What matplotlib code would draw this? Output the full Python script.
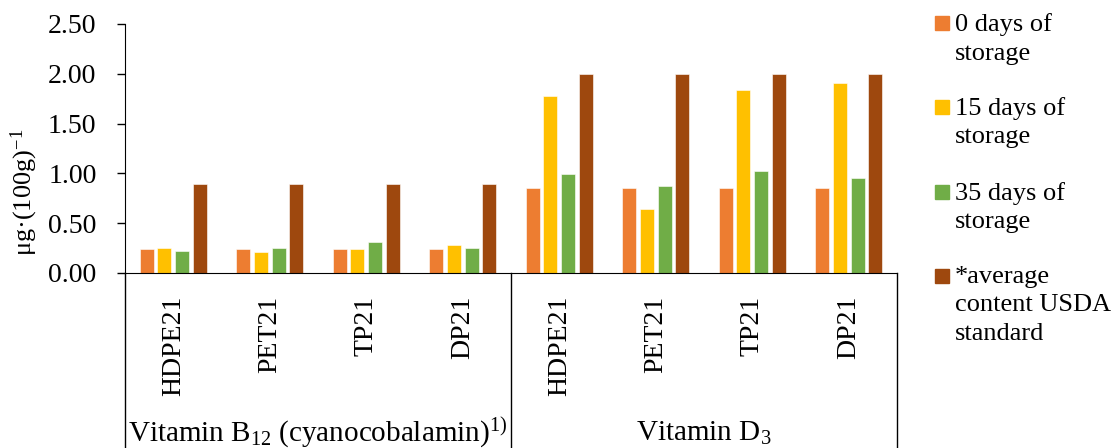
import numpy as np
import matplotlib
matplotlib.use('Agg')
import matplotlib.pyplot as plt
from matplotlib.patches import Rectangle

plt.rcParams['font.family'] = ['Liberation Serif', 'DejaVu Serif']
plt.rcParams['mathtext.fontset'] = 'custom'
plt.rcParams['mathtext.rm'] = 'Liberation Serif'
plt.rcParams['mathtext.it'] = 'Liberation Serif:italic'

# dane
packages = ['HDPE21', 'PET21', 'TP21', 'DP21', 'HDPE21', 'PET21', 'TP21', 'DP21']
groups = [r'Vitamin B$\mathregular{_{12}}$ (cyanocobalamin)$\mathregular{^{1)}}$',
          r'Vitamin D$\mathregular{_{3}}$']
series = ['0 days of\nstorage', '15 days of\nstorage', '35 days of\nstorage',
          '*average\ncontent USDA\nstandard']
day0 = [0.24, 0.24, 0.24, 0.24, 0.85, 0.85, 0.85, 0.85]
day15 = [0.25, 0.21, 0.24, 0.28, 1.78, 0.64, 1.84, 1.91]
day35 = [0.22, 0.25, 0.31, 0.25, 0.99, 0.87, 1.02, 0.95]
usda = [0.89, 0.89, 0.89, 0.89, 2.00, 2.00, 2.00, 2.00]
colors = ['#ED7D31', '#FFC000', '#70AD47', '#9E480E']

fig = plt.figure(figsize=(11.13, 4.48), dpi=100)
ax = fig.add_axes([125/1113, 175/448, 772/1113, 249/448])

x = np.arange(len(packages))
step = 0.183
width = 0.145
for i, vals in enumerate([day0, day15, day35, usda]):
    ax.bar(x + (i - 1.5) * step, vals, width, color=colors[i],
           edgecolor='white', linewidth=0.4)

ax.set_xlim(-0.5, 7.5)
ax.set_ylim(0, 2.5)
ax.set_yticks(np.arange(0, 2.51, 0.5))
ax.set_yticklabels([f'{v:.2f}' for v in np.arange(0, 2.51, 0.5)], fontsize=20)
ax.tick_params(axis='y', direction='out', length=5.5, width=1, pad=15)

ax.set_xticks(x)
ax.set_xticklabels(packages, rotation=90, fontsize=20, va='top')
ax.tick_params(axis='x', length=0, pad=16.5)

ax.spines['top'].set_visible(False)
ax.spines['right'].set_visible(False)
ax.spines['left'].set_color('black')
ax.spines['bottom'].set_color('black')

ax.set_ylabel(r'μg·(100g)$\mathregular{^{-1}}$', fontsize=19)
ax.yaxis.set_label_coords(-0.11, 0.325)

# ramki pod osią X
trans = ax.get_xaxis_transform()
bottom = -175 / 249
for xv in [-0.5, 3.5, 7.5]:
    ax.plot([xv, xv], [0, bottom], color='black', lw=1, transform=trans, clip_on=False)
ax.text(1.5, -0.643, groups[0], transform=trans, ha='center', va='center', fontsize=21)
ax.text(5.5, -0.643, groups[1], transform=trans, ha='center', va='center', fontsize=21)

# legenda
ys = [23.5, 107, 192, 276]
for i, lab in enumerate(series):
    yc = 1 - ys[i] / 448
    fig.patches.append(Rectangle((935/1113, yc - 7/448), 14/1113, 14/448,
                                 transform=fig.transFigure, color=colors[i]))
    fig.text(955/1113, yc + 10/448, lab, fontsize=19, va='top', ha='left',
             linespacing=1.38)

plt.savefig('out.png', dpi=100)
